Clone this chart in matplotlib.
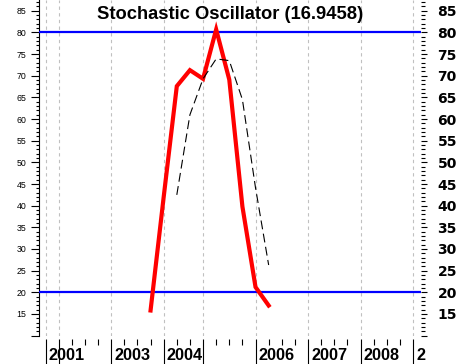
import matplotlib
matplotlib.use("Agg")
from matplotlib import pyplot as plt
from matplotlib.ticker import FixedLocator, FuncFormatter
from matplotlib.transforms import blended_transform_factory, offset_copy

# quarter index on the x axis
k_quarters = [7, 8, 9, 10, 11, 12, 13, 14, 15, 16]
k_values = [15.8, 42.0, 67.6, 71.3, 69.3, 80.7, 69.1, 39.8, 21.2, 16.9458]
d_quarters = [9, 10, 11, 12, 13, 14, 15, 16]
d_values = [42.5, 61.0, 69.3, 73.9, 73.5, 64.5, 44.1, 26.3]

year_ticks = [-1, 0, 4, 8, 11, 15, 19, 23, 27]
year_labels = ["2001", "", "2003", "2004", "", "2006", "2007", "2008", "2"]
minor_quarters = [q for q in range(-1, 28) if q not in year_ticks]

levels = [20, 80]

fig = plt.figure(figsize=(4.59, 3.64), dpi=100)
ax = fig.add_axes([38.5 / 459, 28.4 / 364, (421 - 38.5) / 459, 335.6 / 364])

ax.set_xlim(-1.54, 27.61)
ax.set_ylim(10, 87.5)

# overbought / oversold lines
for lv in levels:
    ax.axhline(lv, color="#0000ff", lw=1.6, zorder=3)

# %K and %D
ax.plot(k_quarters, k_values, color="#ff0000", lw=3.0, solid_joinstyle="miter", zorder=4)
ax.plot(d_quarters, d_values, color="black", lw=0.8, linestyle=(0, (8, 4)), zorder=5)

# x axis: year lines + quarterly ticks
ax.xaxis.set_major_locator(FixedLocator(year_ticks))
ax.xaxis.set_minor_locator(FixedLocator(minor_quarters))
ax.set_xticklabels([])
ax.tick_params(axis="x", which="major", direction="out", length=20, width=0.8, color="black")
ax.tick_params(axis="x", which="minor", direction="out", length=4.3, width=0.8, color="black")
ax.grid(axis="x", which="major", color="#c0c0c0", linestyle=(0, (3, 3)), lw=0.8)

trans = blended_transform_factory(ax.transData, ax.transAxes)
for q, lab in zip(year_ticks, year_labels):
    t = offset_copy(trans, fig=fig, x=2.2, y=-17.6, units="points")
    ax.text(q, 0, lab, transform=t, ha="left", va="baseline", fontsize=11.7,
            fontweight="bold", family="Liberation Sans", clip_on=False)

# left y axis
ax.yaxis.set_major_locator(FixedLocator(range(10, 90, 5)))
ax.yaxis.set_minor_locator(FixedLocator(range(10, 88)))
fmt = FuncFormatter(lambda v, p: "" if v < 15 else "%d" % v)
ax.yaxis.set_major_formatter(fmt)
ax.tick_params(axis="y", which="major", direction="out", length=5.8, width=0.8, pad=2.9,
               labelsize=6.3)
ax.tick_params(axis="y", which="minor", direction="out", length=2.4, width=0.8)
for lbl in ax.get_yticklabels():
    lbl.set_family("Liberation Sans")

for side in ["top", "right", "bottom"]:
    ax.spines[side].set_visible(False)
ax.spines["bottom"].set_position(("outward", 2.2))
ax.spines["left"].set_linewidth(0.8)

# right y axis
ax2 = ax.twinx()
ax2.set_ylim(ax.get_ylim())
ax2.yaxis.set_major_locator(FixedLocator(range(10, 90, 5)))
ax2.yaxis.set_minor_locator(FixedLocator(range(10, 88)))
ax2.yaxis.set_major_formatter(fmt)
ax2.tick_params(axis="y", which="major", direction="out", length=4.3, width=0.8, pad=7.6,
                labelsize=10)
ax2.tick_params(axis="y", which="minor", direction="out", length=2.7, width=0.8)
for lbl in ax2.get_yticklabels():
    lbl.set_fontweight("bold")
    lbl.set_family("DejaVu Sans")
for side in ax2.spines:
    ax2.spines[side].set_visible(False)

ax.text(0.5, 1 - 19 / 335.6, "Stochastic Oscillator (16.9458)", transform=ax.transAxes,
        ha="center", va="baseline", fontsize=13.2, fontweight="bold", family="Liberation Sans")

fig.savefig("out.png", dpi=100)
